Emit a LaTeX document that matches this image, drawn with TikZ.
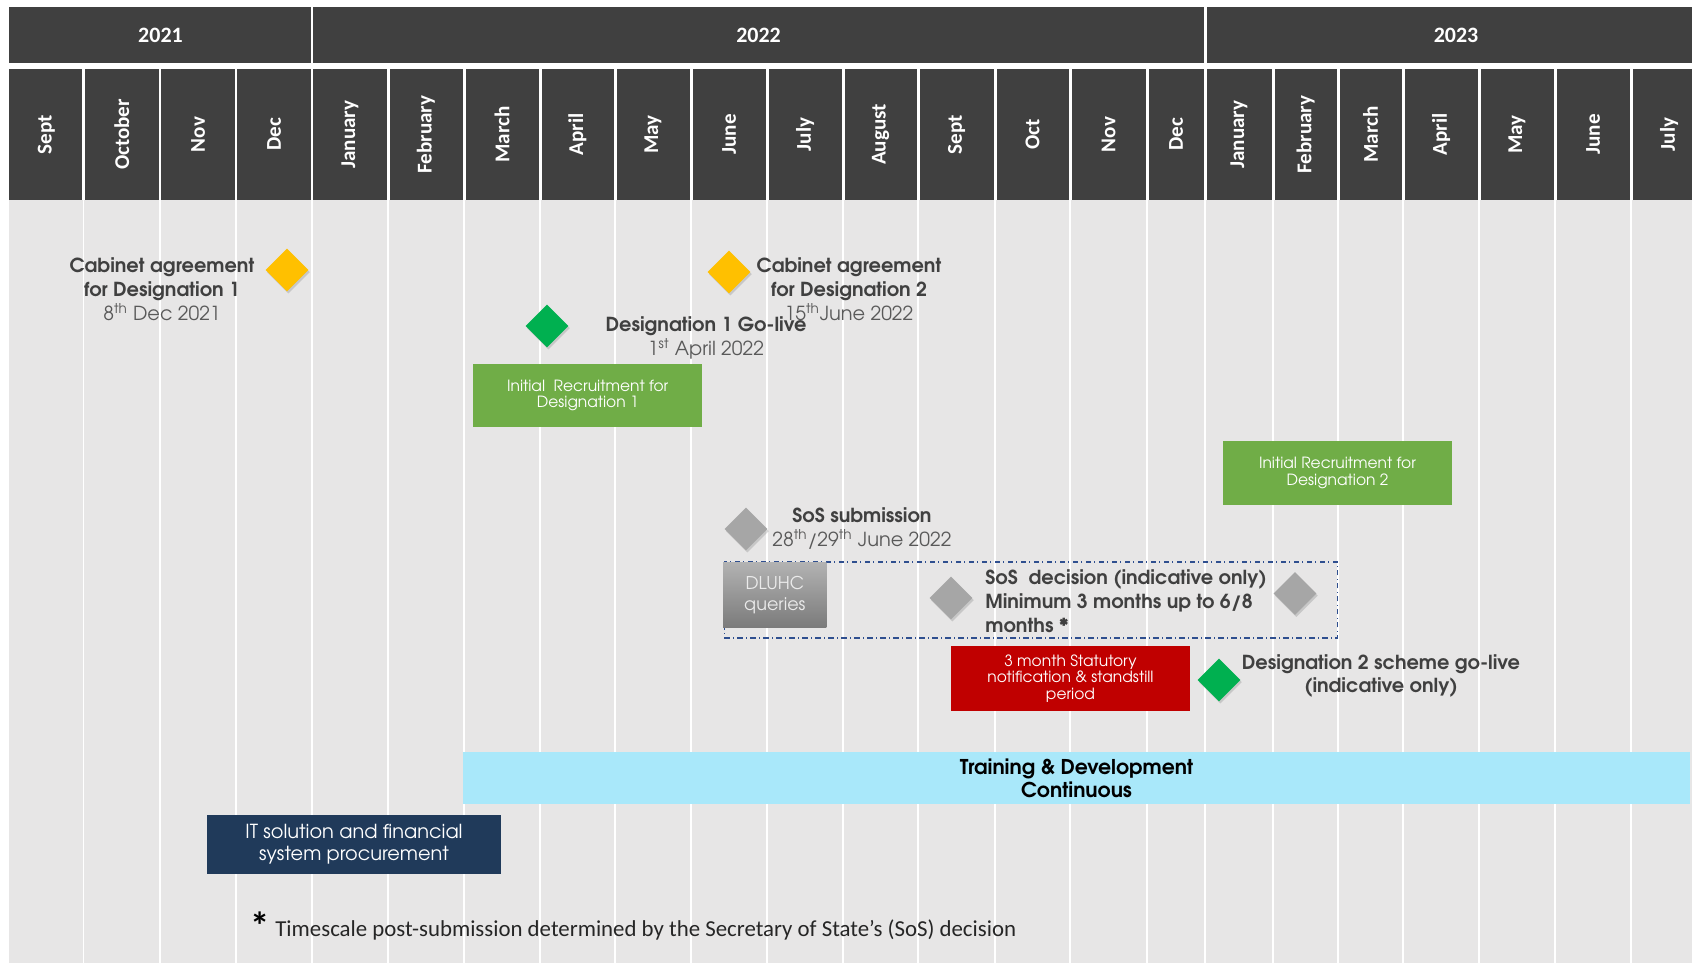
\documentclass[tikz,border=0pt]{standalone}
\usepackage{fontspec}
\setmainfont{TeX Gyre Adventor}
\newfontfamily\calibri{Carlito}
\usetikzlibrary{shapes.geometric,shadows}

\definecolor{header}{HTML}{404040}
\definecolor{chartbg}{HTML}{E7E6E6}
\definecolor{gold}{HTML}{FFC000}
\definecolor{msgreen}{HTML}{00B050}
\definecolor{boxgreen}{HTML}{70AD47}
\definecolor{boxred}{HTML}{C00000}
\definecolor{navy}{HTML}{203A5A}
\definecolor{skyblue}{HTML}{A9E8FA}
\definecolor{msgray}{HTML}{A6A6A6}
\definecolor{labeltext}{HTML}{404040}
\definecolor{datetext}{HTML}{595959}
\definecolor{dashblue}{HTML}{2F4F8F}

\tikzstyle{year} = [text=white, font=\calibri\bfseries\fontsize{12.5}{14}\selectfont]
\tikzstyle{month} = [rotate=90, text=white, font=\calibri\bfseries\fontsize{12}{14}\selectfont]
\tikzstyle{milestone} = [diamond, minimum size=24.5pt, inner sep=0pt,
    drop shadow={opacity=0.3, shadow xshift=0.8pt, shadow yshift=-1.2pt}]
\tikzstyle{caption} = [text=labeltext, align=center, inner sep=0pt,
    font=\bfseries\fontsize{11}{13.6}\selectfont]
\tikzstyle{bar} = [rectangle, text=white, align=center, inner sep=0pt,
    font=\fontsize{8.8}{9.4}\selectfont]

\newcommand{\dated}[1]{{\mdseries\color{datetext}#1}}

\begin{document}
\begin{tikzpicture}[x=0.02cm, y=-0.02cm]
	\useasboundingbox (0,0) rectangle (1692,963);
	\clip (0,0) rectangle (1692,963);

	\fill[chartbg] (9,200) rectangle (1692,963);
	\fill[header] (9,7.5) rectangle (1692,62.6);
	\fill[header] (9,69) rectangle (1692,200);

	\foreach \l/\r/\m [count=\i] in {9/83.5/Sept, 83.5/160/October, 160/236/Nov, 236/312/Dec,
		312/388/January, 388/464/February, 464/540/March, 540/615/April, 615/691/May,
		691/767/June, 767/843/July, 843/918/August, 918/995/Sept, 995/1070/Oct,
		1070/1147/Nov, 1147/1205/Dec, 1205/1273/January, 1273/1338/February,
		1338/1403/March, 1403/1479/April, 1479/1555/May, 1555/1631/June, 1631/1707/July}{
		\node[month] (m\i) at ({(\l+\r)/2},134.5) {\m};
		\draw[white, line width=1.7pt] (\r,69) -- (\r,200);
		\draw[white, line width=1.1pt] (\r,200) -- (\r,963);
	}

	\node[year] (y2021) at (160.5,35) {2021};
	\node[year] (y2022) at (758.5,35) {2022};
	\node[year] (y2023) at (1456,35) {2023};
	\draw[white, line width=1.7pt] (312,7.5) -- (312,62.6);
	\draw[white, line width=1.7pt] (1205,7.5) -- (1205,62.6);

	\node[milestone, fill=gold] (cab1) at (287,270) {};
	\node[caption] (cab1text) at (162,289) {Cabinet agreement\\for Designation 1\\\dated{8\textsuperscript{th} Dec 2021}};
	\node[milestone, fill=gold] (cab2) at (729,272) {};
	\node[caption] (cab2text) at (849,289) {Cabinet agreement\\for Designation 2\\\dated{15\textsuperscript{th}June 2022}};

	\node[milestone, fill=msgreen] (golive1) at (547,326) {};
	\node[caption] (golive1text) at (706,337.5) {Designation 1 Go-live\\\dated{1\textsuperscript{st} April 2022}};
	\node[bar, fill=boxgreen, minimum width=130.1pt, minimum height=35.7pt] (recruit1) at (587.75,395.5) {Initial\ \ Recruitment for\\Designation 1};
	\node[bar, fill=boxgreen, minimum width=130.4pt, minimum height=36.3pt] (recruit2) at (1337.5,473) {Initial Recruitment for\\Designation 2};

	\node[milestone, fill=msgray] (submit) at (746,529) {};
	\node[caption] (submittext) at (862,528.5) {SoS submission\\\dated{28\textsuperscript{th}/29\textsuperscript{th} June 2022}};

	\node[rectangle, draw=dashblue, dash dot, line width=0.8pt, minimum width=349.2pt, minimum height=43.1pt] (window) at (1031,600) {};
	\node[bar, top color=black!30, bottom color=black!52, text=white!92!black, minimum width=58.7pt, minimum height=37.4pt,
		font=\fontsize{10}{12}\selectfont] (queries) at (774.8,595) {DLUHC\\queries};
	\node[milestone, fill=msgray] (decide1) at (951,598) {};
	\node[caption, align=left, anchor=west] (decidetext) at (985,601) {SoS\ \ decision (indicative only)\\Minimum 3 months up to 6/8\\months *};
	\node[milestone, fill=msgray] (decide2) at (1295,593.5) {};

	\node[bar, fill=boxred, minimum width=135.5pt, minimum height=36.8pt] (standstill) at (1070.5,678.5) {3 month Statutory\\notification \& standstill\\period};
	\node[milestone, fill=msgreen] (golive2) at (1219,680) {};
	\node[caption] (golive2text) at (1381,676) {Designation 2 scheme go-live\\(indicative only)};

	\node[bar, fill=skyblue, text=black, minimum width=697.9pt, minimum height=29.5pt,
		font=\bfseries\fontsize{11.6}{13}\selectfont] (training) at (1076.5,778) {Training \& Development\\Continuous};
	\node[bar, fill=navy, minimum width=167.8pt, minimum height=33.4pt,
		font=\fontsize{11}{12.5}\selectfont] (itproc) at (354,844.5) {IT solution and financial\\system procurement};

	\node[anchor=base west, text=black!85, inner sep=0pt, font=\calibri\fontsize{13}{15}\selectfont] (note) at (275,936) {Timescale post-submission determined by the Secretary of State’s (SoS) decision};
	\node[inner sep=0pt, font=\calibri\bfseries\fontsize{22}{22}\selectfont] (star) at (260,926) {*};
\end{tikzpicture}
\end{document}
